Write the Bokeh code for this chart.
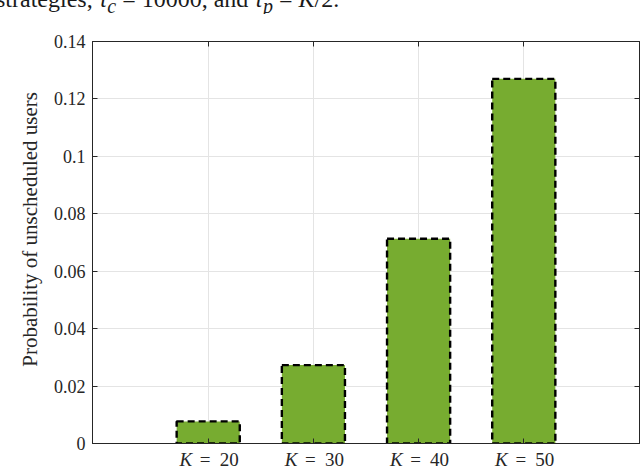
from bokeh.plotting import figure
from bokeh.layouts import column
from bokeh.models import Range1d, FixedTicker, CustomJSTickFormatter, LinearAxis, Div
from bokeh.core.properties import value
from bokeh.embed import file_html
from bokeh.resources import INLINE

# ---- data ----
k_values = ["20", "30", "40", "50"]
positions = [1, 2, 3, 4]
probabilities = [0.0077, 0.0273, 0.0713, 0.1270]
y_ticks = [0, 0.02, 0.04, 0.06, 0.08, 0.10, 0.12, 0.14]
y_label = "Probability of unscheduled users"
caption_html = ("strategies, <i>\u03c4</i><sub><i>c</i></sub> = 10000, and "
                "<i>\u03c4</i><sub><i>p</i></sub> = <i>K</i>/2.")

FONT = "Liberation Serif"
AX = "#262626"
W = 640
LEFT = 92

# ---- top strip: caption fragment, cut by the top edge as in the source ----
p0 = Div(text=('<div style="position:relative; left:-4px; top:-14px; '
               'white-space:nowrap; font-family:\'Liberation Serif\', serif; '
               'font-size:24px; line-height:26px; color:#1a1a1a;">'
               + caption_html + '</div>'),
         width=W, height=14, margin=(0, 0, 0, 0),
         styles={"overflow": "hidden"})

# ---- main chart ----
xr = Range1d(-0.1, 5.1)
p = figure(width=W, height=439, output_backend="svg", toolbar_location=None,
           x_range=xr, y_range=Range1d(0, 0.14),
           min_border_left=LEFT, min_border_right=0, min_border_top=27,
           min_border_bottom=10, margin=(0, 0, 0, 0))
p.background_fill_color = "white"
p.border_fill_color = "white"
p.outline_line_color = AX
p.outline_line_width = 1

p.xgrid.ticker = FixedTicker(ticks=positions)
p.ygrid.ticker = FixedTicker(ticks=y_ticks)
for g in (p.xgrid, p.ygrid):
    g.grid_line_color = "#e4e4e4"
    g.grid_line_width = 1

p.vbar(x=positions, top=probabilities, width=0.6, fill_color="#77AC30",
       line_color="black", line_width=2.4, line_dash="7 4")

fmt_y = CustomJSTickFormatter(code="""
var s = tick.toFixed(2);
s = s.replace(/0+$/, '').replace(/\\.$/, '');
return s;
""")
empty = CustomJSTickFormatter(code="return '';")

ya = p.yaxis[0]
ya.ticker = FixedTicker(ticks=y_ticks)
ya.formatter = fmt_y
ya.axis_label = "\u00a0" * 5 + y_label
ya.axis_label_text_font = FONT
ya.axis_label_text_font_style = "normal"
ya.axis_label_text_font_size = "21px"
ya.axis_label_text_color = AX
ya.axis_label_standoff = 9
ya.major_label_text_font = FONT
ya.major_label_text_font_size = "18px"
ya.major_label_text_color = AX
ya.major_label_standoff = 7
ya.major_tick_in = 5
ya.major_tick_out = 0
ya.minor_tick_line_color = None
ya.axis_line_color = AX
ya.major_tick_line_color = AX

xa = p.xaxis[0]
xa.ticker = FixedTicker(ticks=positions)
xa.formatter = empty
xa.major_label_text_font_size = "0px"
xa.major_label_standoff = 0
xa.major_tick_in = 5
xa.major_tick_out = 0
xa.minor_tick_line_color = None
xa.axis_line_color = AX
xa.major_tick_line_color = AX

ra = LinearAxis(ticker=FixedTicker(ticks=y_ticks), formatter=empty,
                major_label_text_font_size="0px", major_label_standoff=0,
                major_tick_in=5, major_tick_out=0, minor_tick_line_color=None,
                axis_line_color=AX, major_tick_line_color=AX)
p.add_layout(ra, "right")
ta = LinearAxis(ticker=FixedTicker(ticks=positions), formatter=empty,
                major_label_text_font_size="0px", major_label_standoff=0,
                major_tick_in=5, major_tick_out=0, minor_tick_line_color=None,
                axis_line_color=AX, major_tick_line_color=AX)
p.add_layout(ta, "above")

# ---- bottom strip (overlaps the chart's bottom border, transparent) ----
p2 = figure(width=W, height=26, output_backend="svg", toolbar_location=None,
            x_range=xr, y_range=Range1d(0, 1),
            x_axis_location=None, y_axis_location=None,
            min_border_left=LEFT, min_border_right=1, min_border_top=0,
            min_border_bottom=0, margin=(-10, 0, 0, 0))
p2.xgrid.visible = False
p2.ygrid.visible = False
p2.outline_line_color = None
p2.background_fill_alpha = 0
p2.border_fill_alpha = 0
ly = [0.4] * len(positions)
p2.text(x=positions, y=ly, text=["K"] * len(positions),
        text_font=value(FONT), text_font_style="italic", text_font_size="19px",
        text_align="right", text_baseline="middle", x_offset=-16,
        text_color=AX)
p2.text(x=positions, y=ly, text=["="] * len(positions),
        text_font=value(FONT), text_font_size="19px", text_align="center",
        text_baseline="middle", x_offset=-3, text_color=AX)
p2.text(x=positions, y=ly, text=k_values,
        text_font=value(FONT), text_font_size="19px", text_align="center",
        text_baseline="middle", x_offset=21, text_color=AX)

layout = column(p0, p, p2, spacing=0)
html = file_html(layout, INLINE)
open("out.html", "w").write(html)
